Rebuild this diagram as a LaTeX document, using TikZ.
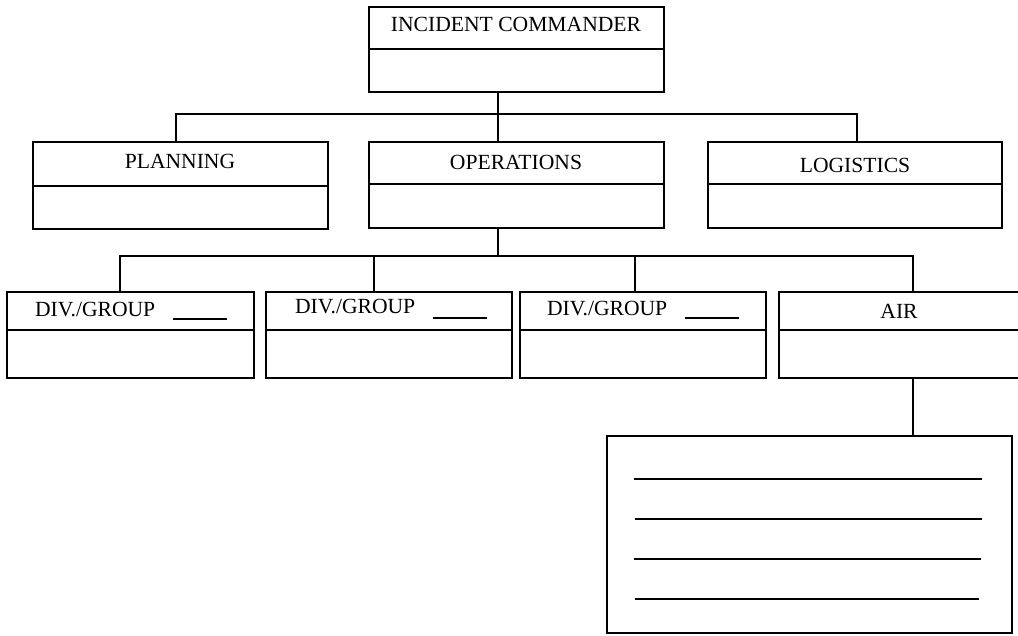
\documentclass[tikz,border=0pt]{standalone}
\usepackage{fontspec}
\setmainfont{Liberation Serif}
\begin{document}
\begin{tikzpicture}[x=1pt,y=-1pt,
  box/.style={draw, line width=1.5pt, inner sep=0pt, outer sep=0pt, anchor=north west},
  lbl/.style={inner sep=0pt, outer sep=0pt, font=\fontsize{21.6}{25}\selectfont},
  conn/.style={line width=1.5pt},
  blank/.style={line width=1.3pt}]
\useasboundingbox (0,0) rectangle (1018,635);
\clip (0,0) rectangle (1018,635);

% boxes
\node[box, minimum width=295pt, minimum height=85pt] (ic) at (369,7) {};
\node[box, minimum width=295pt, minimum height=87pt] (plan) at (33,142) {};
\node[box, minimum width=295pt, minimum height=86pt] (ops) at (369,142) {};
\node[box, minimum width=294pt, minimum height=86pt] (log) at (708,142) {};
\node[box, minimum width=247pt, minimum height=86pt] (d1) at (7,292) {};
\node[box, minimum width=246pt, minimum height=86pt] (d2) at (266,292) {};
\node[box, minimum width=246pt, minimum height=86pt] (d3) at (520,292) {};
\node[box, minimum width=260pt, minimum height=86pt] (air) at (779,292) {};
\node[box, minimum width=405pt, minimum height=197pt] (notes) at (607,436) {};

% dividers
\draw[conn] ([yshift=-42pt]ic.north west) -- ([yshift=-42pt]ic.north east);
\draw[conn] ([yshift=-44pt]plan.north west) -- ([yshift=-44pt]plan.north east);
\draw[conn] ([yshift=-42pt]ops.north west) -- ([yshift=-42pt]ops.north east);
\draw[conn] ([yshift=-42pt]log.north west) -- ([yshift=-42pt]log.north east);
\foreach \b in {d1,d2,d3,air}{
  \draw[conn] ([yshift=-38pt]\b.north west) -- ([yshift=-38pt]\b.north east);
}

% labels
\node[lbl, anchor=base] (ict) at (516,31) {INCIDENT COMMANDER};
\node[lbl, anchor=base] (plant) at (180,168) {PLANNING};
\node[lbl, anchor=base] (opst) at (516,169) {OPERATIONS};
\node[lbl, anchor=base] (logt) at (855,172) {LOGISTICS};
\node[lbl, anchor=base west] (d1t) at (35,316) {DIV./GROUP};
\node[lbl, anchor=base west] (d2t) at (295,313) {DIV./GROUP};
\node[lbl, anchor=base west] (d3t) at (547,315) {DIV./GROUP};
\node[lbl, anchor=base] (airt) at (899,318) {AIR};

% blanks after DIV./GROUP
\coordinate (u1a) at (173,319); \coordinate (u1b) at (227,319);
\coordinate (u2a) at (433,318); \coordinate (u2b) at (487,318);
\coordinate (u3a) at (685,318); \coordinate (u3b) at (739,318);
\draw[blank] (u1a) -- (u1b);
\draw[blank] (u2a) -- (u2b);
\draw[blank] (u3a) -- (u3b);

% lines in notes box
\foreach \yy/\xa/\xb in {479/634/982, 519/635/982, 559/634/981, 599/635/979}{
  \draw[conn] (\xa,\yy) -- (\xb,\yy);
}

% connectors
\coordinate (j1) at (498,114);
\draw[conn] (j1 |- ic.south) -- (j1);
\draw[conn] ([xshift=143pt]plan.north west) |- (j1) -| ([xshift=149pt]log.north west);
\draw[conn] (j1) -- (j1 |- ops.north);

\coordinate (j2) at (498,256);
\draw[conn] (j2 |- ops.south) -- (j2);
\draw[conn] ([xshift=113pt]d1.north west) |- (j2) -| ([xshift=134pt]air.north west);
\draw[conn] ([xshift=108pt]d2.north west) -- ([xshift=108pt]d2.north west |- j2);
\draw[conn] ([xshift=115pt]d3.north west) -- ([xshift=115pt]d3.north west |- j2);
\draw[conn] ([xshift=134pt]air.south west) -- ([xshift=306pt]notes.north west);
\end{tikzpicture}
\end{document}
